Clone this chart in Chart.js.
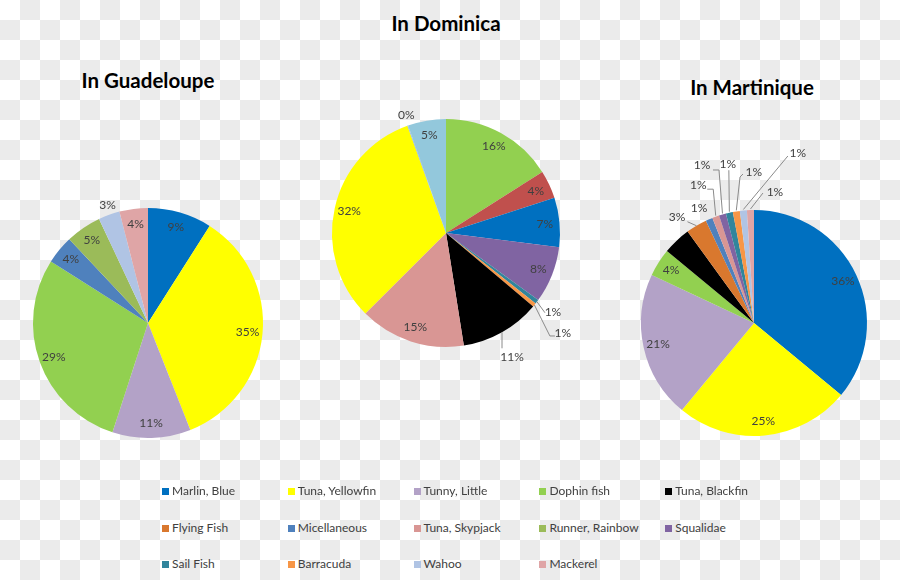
<!DOCTYPE html>
<html>
<head>
<meta charset="utf-8">
<script src="https://cdn.jsdelivr.net/npm/chart.js@4/dist/chart.umd.min.js"></script>
<style>
  html, body { margin: 0; padding: 0; }
  body {
    width: 900px; height: 580px; overflow: hidden; position: relative;
    background-color: #fff;
    background-image: repeating-conic-gradient(#ebebeb 0 25%, #ffffff 0 50%);
    background-size: 40px 40px;
    background-position: 0 0;
    font-family: Lato, "Open Sans", sans-serif;
  }
  .title { position: absolute; font-weight: 700; font-size: 20.5px; line-height: 20px;
           color: #000; white-space: nowrap; transform: translateX(-50%); }
  .pie { position: absolute; width: 300px; height: 360px; }
  .legend-item { position: absolute; font-size: 12px; line-height: 12px; color: #404040; white-space: nowrap; }
  .legend-item .sw { position: absolute; left: 0; top: 3px; width: 7px; height: 7px; }
  .legend-item .tx { position: absolute; left: 10px; top: 0; }
</style>
</head>
<body>
<div class="title" style="left:148px; top:70px;">In Guadeloupe</div>
<div class="title" style="left:446px; top:13px;">In Dominica</div>
<div class="title" style="left:752px; top:77px;">In Martinique</div>

<div class="pie" id="wrapG"><canvas id="chartG" width="300" height="360"></canvas></div>
<div class="pie" id="wrapD"><canvas id="chartD" width="300" height="360"></canvas></div>
<div class="pie" id="wrapM"><canvas id="chartM" width="300" height="360"></canvas></div>
<div id="legend"></div>

<script>
// ---------------- DATA ----------------
const guadeloupeCategories = ['Marlin, Blue', 'Tuna, Yellowfin', 'Tunny, Little', 'Dophin fish',
  'Micellaneous', 'Runner, Rainbow', 'Wahoo', 'Mackerel'];
const guadeloupeValues = [9, 35, 11, 29, 4, 5, 3, 4];

const dominicaCategories = ['Dophin fish', 'Unlisted (red)', 'Marlin, Blue', 'Squalidae', 'Sail Fish',
  'Barracuda', 'Tuna, Blackfin', 'Tuna, Skypjack', 'Tuna, Yellowfin', 'Unlisted (0%)', 'Unlisted (light blue)'];
const dominicaValues = [16, 4, 7, 8, 0.6, 0.55, 11.35, 15, 32, 0.1, 5.4];

const martiniqueCategories = ['Marlin, Blue', 'Tuna, Yellowfin', 'Tunny, Little', 'Dophin fish',
  'Tuna, Blackfin', 'Flying Fish', 'Micellaneous', 'Tuna, Skypjack', 'Squalidae', 'Sail Fish',
  'Barracuda', 'Wahoo', 'Mackerel'];
const martiniqueValues = [36, 25, 21, 4, 4, 3, 1, 1, 1, 1, 1, 1, 1];

const legendCategories = ['Marlin, Blue', 'Tuna, Yellowfin', 'Tunny, Little', 'Dophin fish', 'Tuna, Blackfin',
  'Flying Fish', 'Micellaneous', 'Tuna, Skypjack', 'Runner, Rainbow', 'Squalidae',
  'Sail Fish', 'Barracuda', 'Wahoo', 'Mackerel'];

// ---------------- STYLES ----------------
const palette = {
  'Marlin, Blue': '#0070C0',
  'Tuna, Yellowfin': '#FFFF00',
  'Tunny, Little': '#B3A2C7',
  'Dophin fish': '#92D050',
  'Tuna, Blackfin': '#000000',
  'Flying Fish': '#D9782E',
  'Micellaneous': '#4F81BD',
  'Tuna, Skypjack': '#D99694',
  'Runner, Rainbow': '#9BBB59',
  'Squalidae': '#8064A2',
  'Sail Fish': '#31859C',
  'Barracuda': '#F79646',
  'Wahoo': '#B0C4E4',
  'Mackerel': '#DFA5A6',
  'Unlisted (red)': '#C0504D',
  'Unlisted (0%)': '#8DB3E2',
  'Unlisted (light blue)': '#93C8DC'
};

const sliceLabels = {
  id: 'sliceLabels',
  afterDatasetsDraw(chart, args, opts) {
    const ctx = chart.ctx;
    const meta = chart.getDatasetMeta(0);
    const vals = chart.data.datasets[0].data;
    const total = vals.reduce((a, b) => a + b, 0);
    ctx.save();
    ctx.font = opts.font;
    ctx.fillStyle = opts.color;
    ctx.textAlign = 'center';
    ctx.textBaseline = 'middle';
    meta.data.forEach((arc, i) => {
      if ((opts.hidden || []).includes(i)) return;
      const p = arc.getProps(['x', 'y', 'startAngle', 'endAngle', 'outerRadius'], true);
      const mid = (p.startAngle + p.endAngle) / 2;
      const txt = Math.round(vals[i] / total * 100) + '%';
      const out = (opts.outside || {})[i];
      if (out) {
        const ex = p.x + Math.cos(mid) * p.outerRadius;
        const ey = p.y + Math.sin(mid) * p.outerRadius;
        if (out.leader) {
          ctx.beginPath();
          ctx.strokeStyle = opts.leaderColor;
          ctx.lineWidth = 1;
          out.leader.forEach((q, k) => {
            const X = ex + q[0], Y = ey + q[1];
            if (k) ctx.lineTo(X, Y); else ctx.moveTo(X, Y);
          });
          ctx.stroke();
        }
        ctx.fillText(txt, ex + out.dx, ey + out.dy);
      } else {
        const rr = p.outerRadius * opts.inset;
        ctx.fillText(txt, p.x + Math.cos(mid) * rr, p.y + Math.sin(mid) * rr);
      }
    });
    ctx.restore();
  }
};

function makePie(canvasId, wrapId, categories, values, cx, cy, r, labelOpts) {
  const wrap = document.getElementById(wrapId);
  wrap.style.left = (cx - 150) + 'px';
  wrap.style.top = (cy - 180) + 'px';
  return new Chart(document.getElementById(canvasId), {
    type: 'pie',
    data: {
      labels: categories,
      datasets: [{
        data: values,
        backgroundColor: categories.map(c => palette[c]),
        borderWidth: 0,
        hoverOffset: 0
      }]
    },
    options: {
      responsive: false,
      animation: false,
      events: [],
      layout: { padding: { left: 150 - r, right: 150 - r, top: 180 - r, bottom: 180 - r } },
      plugins: {
        legend: { display: false },
        tooltip: { enabled: false },
        title: { display: false },
        sliceLabels: Object.assign({
          font: '12px Lato, "Open Sans", sans-serif',
          color: '#404040',
          leaderColor: '#8a8a8a',
          inset: 0.87
        }, labelOpts)
      }
    },
    plugins: [sliceLabels]
  });
}

makePie('chartG', 'wrapG', guadeloupeCategories, guadeloupeValues, 148, 323, 115, {
  outside: { 6: { dx: -1.5, dy: -10 } }
});

makePie('chartD', 'wrapD', dominicaCategories, dominicaValues, 446, 233, 114, {
  outside: {
    4: { dx: 16, dy: 10, leader: [[0, 0], [8, 11]] },
    5: { dx: 28.5, dy: 28, leader: [[0, 0], [15.5, 31], [20.5, 31]] },
    6: { dx: 10, dy: 25, leader: [[0, 0], [0, 16]] },
    9: { dx: -1.5, dy: -10 }
  }
});

makePie('chartM', 'wrapM', martiniqueCategories, martiniqueValues, 754, 323, 113, {
  hidden: [4],
  outside: {
    5: { dx: -19.5, dy: -8.5, leader: [[0, 0], [-9, -4]] },
    6: { dx: -10, dy: -11 },
    7: { dx: -17.5, dy: -31.5, leader: [[0, -1], [-2.5, -27.5], [-8.5, -27.5]] },
    8: { dx: -20.5, dy: -49.5, leader: [[0, -1], [-3.5, -44.5], [-9.5, -44.5]] },
    9: { dx: -1.5, dy: -48.5, leader: [[0, -1], [-0.5, -42.5]] },
    10: { dx: 17.5, dy: -39.5, leader: [[0, -1], [3.7, -34.4], [6.7, -37.4]] },
    11: { dx: 54.5, dy: -57.5, leader: [[0, -1], [44.5, -54.5]] },
    12: { dx: 24.5, dy: -18, leader: [[0, -1], [12.5, -17]] }
  }
});

// ---------------- LEGEND ----------------
const legend = document.getElementById('legend');
legendCategories.forEach((name, i) => {
  const col = i % 5, row = Math.floor(i / 5);
  const item = document.createElement('div');
  item.className = 'legend-item';
  item.style.left = (162 + col * 125.8) + 'px';
  item.style.top = (485 + row * 36.5) + 'px';
  const sw = document.createElement('span');
  sw.className = 'sw';
  sw.style.background = palette[name];
  const tx = document.createElement('span');
  tx.className = 'tx';
  tx.textContent = name;
  item.appendChild(sw);
  item.appendChild(tx);
  legend.appendChild(item);
});
</script>
</body>
</html>
